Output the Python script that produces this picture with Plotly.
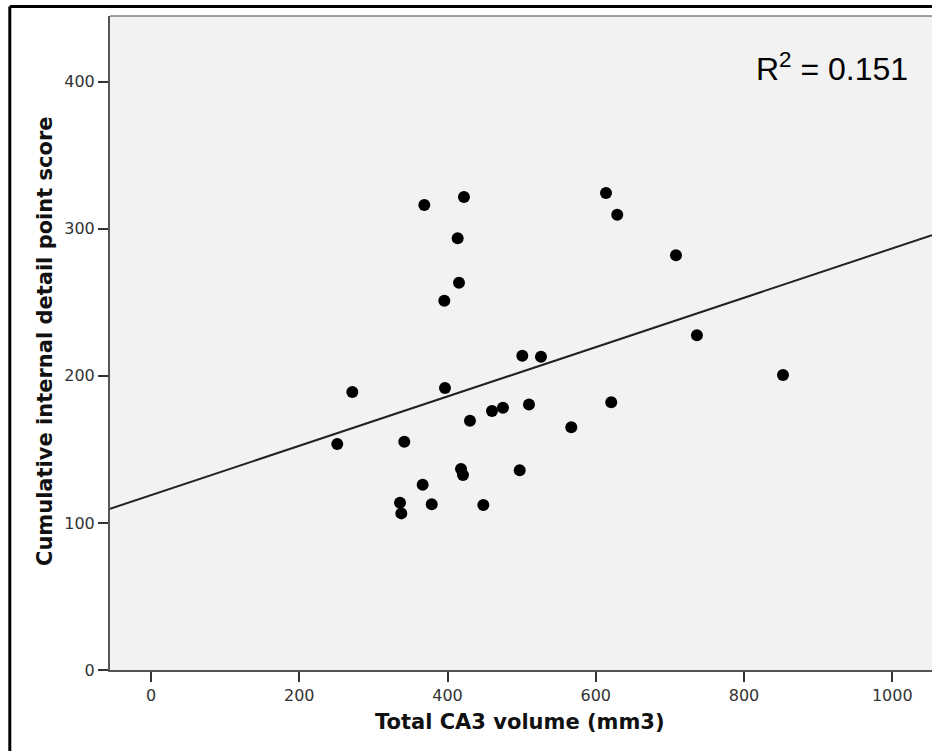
import numpy as np
import plotly.graph_objects as go

# Total CA3 volume (mm3) per participant
ca3_volume = [368.7, 422.2, 413.7, 415.5, 395.7, 500.9, 526.1, 271.6, 396.6, 251.3,
              341.7, 430.3, 460.0, 474.8, 509.9, 567.0, 418.2, 420.9, 497.4, 366.5,
              335.9, 337.7, 378.7, 448.3, 613.8, 629.0, 708.2, 736.5, 852.6, 620.9]
# Cumulative internal detail point score per participant
detail_score = [316.2, 321.6, 293.5, 263.3, 251.1, 213.7, 213.0, 189.0, 191.7, 153.7,
                155.2, 169.5, 176.1, 178.3, 180.6, 165.0, 136.7, 132.6, 135.8, 126.0,
                113.7, 106.5, 112.7, 112.2, 324.3, 309.6, 282.0, 227.6, 200.6, 182.0]

x_ticks = [0, 200, 400, 600, 800, 1000]
y_ticks = [0, 100, 200, 300, 400]
r_squared_label = "0.151"

x_range = [-55.3, 1053.6]
y_range = [0, 444.7]

# least-squares fit line across the whole x range
slope, intercept = np.polyfit(ca3_volume, detail_score, 1)
fit_x = np.array(x_range)
fit_y = intercept + slope * fit_x

fig = go.Figure()
fig.add_trace(go.Scatter(
    x=fit_x, y=fit_y, mode="lines",
    line=dict(color="#222222", width=2),
    hoverinfo="skip", showlegend=False,
))
fig.add_trace(go.Scatter(
    x=ca3_volume, y=detail_score, mode="markers",
    marker=dict(color="black", size=12, line=dict(width=0)),
    showlegend=False,
))

tick_font = dict(family="DejaVu Sans", size=16, color="#333333")
title_font = dict(family="DejaVu Sans", size=21, color="#111111")

fig.update_xaxes(
    range=x_range, tickvals=x_ticks, ticktext=[str(v) for v in x_ticks],
    showgrid=False, zeroline=False,
    showline=True, linecolor="#555555", linewidth=2,
    ticks="outside", ticklen=10, tickwidth=2, tickcolor="#333333",
    tickfont=tick_font,
)
fig.update_yaxes(
    range=y_range, tickvals=y_ticks, ticktext=[str(v) for v in y_ticks],
    showgrid=False, zeroline=False,
    showline=True, linecolor="#555555", linewidth=2,
    ticks="outside", ticklen=10, tickwidth=1.5, tickcolor="#333333",
    tickfont=tick_font,
)

fig.update_layout(
    width=932, height=751,
    margin=dict(l=110, r=0, t=16, b=81),
    paper_bgcolor="white",
    plot_bgcolor="#f2f2f2",
    shapes=[
        # thin frame along the top of the plot area
        dict(type="line", xref="paper", yref="paper", x0=0, x1=1.01, y0=1, y1=1,
             line=dict(color="#444444", width=1.2)),
        # outer figure border
        dict(type="line", xref="paper", yref="paper", x0=-0.1219, x1=1.02,
             y0=1.0145, y1=1.0145, line=dict(color="black", width=3)),
        dict(type="line", xref="paper", yref="paper", x0=-0.1219, x1=-0.1219,
             y0=1.0145, y1=-0.14, line=dict(color="black", width=3)),
    ],
    annotations=[
        dict(text="<b>Total CA3 volume (mm3)</b>", xref="paper", yref="paper",
             x=0.4988, y=-0.0795, xanchor="center", yanchor="middle",
             showarrow=False, font=title_font),
        dict(text="<b>Cumulative internal detail point score</b>", xref="paper", yref="paper",
             x=-0.0791, y=0.503, xanchor="center", yanchor="middle", textangle=-90,
             showarrow=False, font=title_font),
        dict(text="R<sup>2</sup> = " + r_squared_label, xref="paper", yref="paper",
             x=0.973, y=0.922, xanchor="right", yanchor="middle",
             showarrow=False, font=dict(family="Liberation Sans", size=32, color="black")),
    ],
)

fig.write_html("out.html")
